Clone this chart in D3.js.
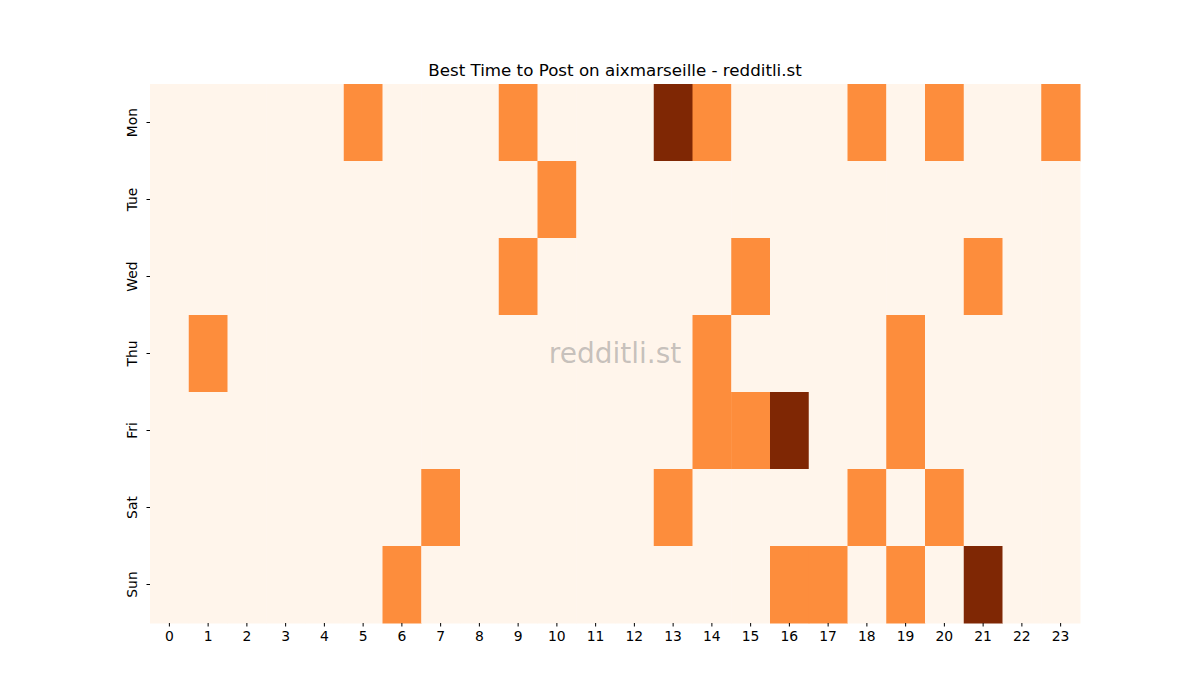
<!DOCTYPE html>
<html>
<head>
<meta charset="utf-8">
<script src="https://cdn.jsdelivr.net/npm/d3@7"></script>
<style>
  body { margin: 0; background: #fff; }
  text { font-family: "DejaVu Sans", sans-serif; }
</style>
</head>
<body>
<svg id="chart"></svg>
<script>
const days = ["Mon", "Tue", "Wed", "Thu", "Fri", "Sat", "Sun"];
const hours = d3.range(0, 24);

// hours with activity per day: value 1 (orange), value 2 (dark)
const activeHours = {
  Mon: [5, 9, 14, 18, 20, 23],
  Tue: [10],
  Wed: [9, 15, 21],
  Thu: [1, 14, 19],
  Fri: [14, 15, 19],
  Sat: [7, 13, 18, 20],
  Sun: [6, 16, 17, 19]
};
const peakHours = {
  Mon: [13],
  Fri: [16],
  Sun: [21]
};

const cells = [];
days.forEach(day => {
  hours.forEach(h => {
    let v = 0;
    if ((activeHours[day] || []).includes(h)) v = 1;
    if ((peakHours[day] || []).includes(h)) v = 2;
    cells.push({ day, hour: h, value: v });
  });
});

const width = 1200;
const height = 700;
const margin = { top: 84, right: 120, bottom: 77, left: 150 };

const svg = d3.select("#chart")
  .attr("width", width)
  .attr("height", height);

const x = d3.scaleBand()
  .domain(hours)
  .range([margin.left, width - margin.right]);

const y = d3.scaleBand()
  .domain(days)
  .range([margin.top, height - margin.bottom]);

const color = d3.scaleOrdinal()
  .domain([0, 1, 2])
  .range(["#fff5eb", "#fd8d3c", "#7f2704"]);

svg.append("g")
  .selectAll("rect")
  .data(cells)
  .join("rect")
  .attr("x", d => x(d.hour))
  .attr("y", d => y(d.day))
  .attr("width", x.bandwidth() + 0.5)
  .attr("height", y.bandwidth() + 0.5)
  .attr("fill", d => color(d.value));

// X Axis
svg.append("g")
  .attr("transform", `translate(0,${height - margin.bottom})`)
  .call(d3.axisBottom(x).tickSize(3.5).tickPadding(5))
  .call(g => g.select(".domain").remove())
  .call(g => g.selectAll("text").style("font-size", "13.9px").attr("fill", "#000"))
  .call(g => g.selectAll("line").attr("stroke", "#000"));

// Y Axis
svg.append("g")
  .attr("transform", `translate(${margin.left},0)`)
  .call(d3.axisLeft(y).tickSize(3.5).tickPadding(5))
  .call(g => g.select(".domain").remove())
  .call(g => g.selectAll("line").attr("stroke", "#000"))
  .call(g => g.selectAll("text")
    .style("font-size", "13.9px")
    .attr("fill", "#000")
    .attr("text-anchor", "middle")
    .attr("dy", null)
    .attr("x", null)
    .attr("transform", "translate(-13,0) rotate(-90)")
    .attr("dominant-baseline", "auto"));

// Title
svg.append("text")
  .attr("x", (margin.left + width - margin.right) / 2)
  .attr("y", 76)
  .attr("text-anchor", "middle")
  .style("font-size", "16.7px")
  .attr("fill", "#000")
  .text("Best Time to Post on aixmarseille - redditli.st");

// Watermark
svg.append("text")
  .attr("x", (margin.left + width - margin.right) / 2)
  .attr("y", 363)
  .attr("text-anchor", "middle")
  .style("font-size", "28px")
  .attr("fill", "#808080")
  .attr("fill-opacity", 0.45)
  .text("redditli.st");
</script>
</body>
</html>
